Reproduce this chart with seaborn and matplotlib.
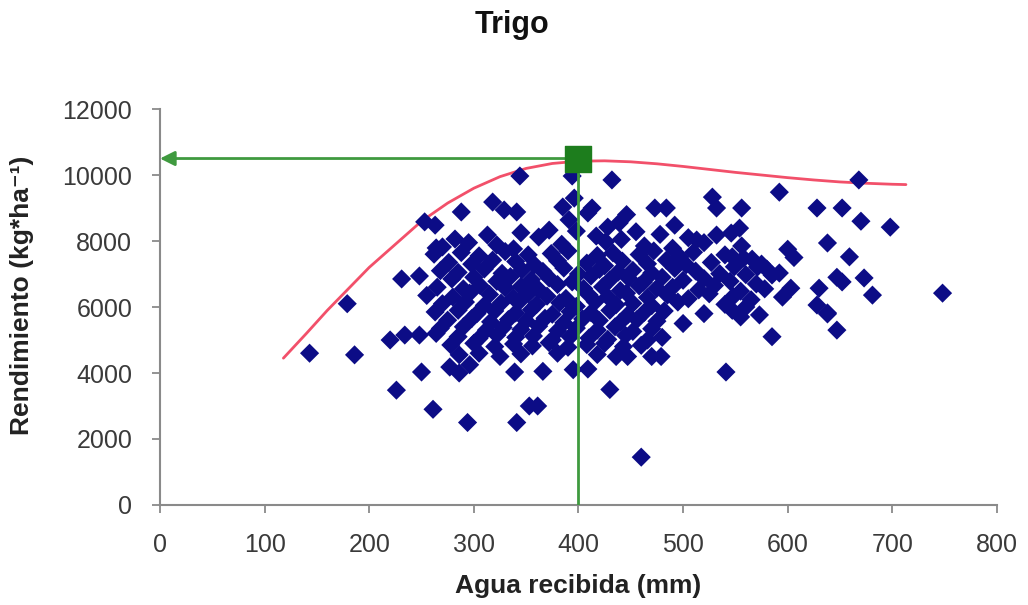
import numpy as np
import pandas as pd
import matplotlib
matplotlib.use("Agg")
import matplotlib.pyplot as plt
import seaborn as sns

# puntos aislados (leidos uno a uno)
sueltos_x = [143, 179, 186, 220, 226, 250, 261, 294, 341, 353, 361, 460, 430, 541, 409, 585,
             638, 647, 668, 592, 628, 652, 670, 698, 638, 659, 606, 592, 647, 652, 673, 681,
             748, 630, 603, 595, 628, 638, 344, 394, 432, 396, 528, 532, 556, 473, 484, 385,
             391, 409, 413, 446, 428, 439, 492, 513, 318, 329, 341, 288, 253, 263, 313, 282,
             264, 231, 248, 554, 547, 558, 571, 585, 547, 573, 532, 546]
sueltos_y = [4600, 6100, 4550, 5000, 3480, 4030, 2900, 2500, 2500, 3000, 3000, 1450, 3500, 4030, 4120, 5100,
             5790, 5300, 9850, 9480, 9000, 9000, 8600, 8420, 7940, 7520, 7500, 7030, 6900, 6760, 6880, 6360,
             6420, 6570, 6570, 6300, 6060, 5820, 9970, 9970, 9850, 9300, 9330, 9000, 9000, 9000, 9000, 9030,
             8640, 8850, 9000, 8800, 8420, 8550, 8480, 8030, 9180, 8940, 8880, 8880, 8580, 8480, 8180, 8060,
             7790, 6850, 6940, 8390, 7520, 7480, 7210, 6970, 5900, 5760, 8180, 8240]

# nube central, por franjas
franja_a_x = [345, 362, 372, 398, 417, 441, 455, 478, 505, 520, 556, 600, 270, 295, 322, 338, 384, 426, 463, 490]
franja_a_y = [8250, 8120, 8330, 8300, 8150, 8050, 8280, 8200, 8100, 7950, 7850, 7750, 7820, 7950, 7880, 7760, 7900, 7980, 7850, 7780]

franja_b_x = [262, 288, 305, 330, 352, 374, 390, 418, 433, 458, 472, 497, 510, 540, 566, 276, 298, 318, 340, 358,
              380, 408, 425, 442, 466, 484, 503, 527, 549, 575, 268, 285, 310, 327, 346, 366, 386, 400, 420, 438,
              452, 470, 492, 512, 535, 560, 580]
franja_b_y = [7600, 7650, 7550, 7680, 7580, 7620, 7700, 7560, 7640, 7590, 7700, 7520, 7660, 7580, 7450, 7350, 7300, 7420, 7380, 7280,
              7400, 7330, 7250, 7390, 7310, 7420, 7280, 7350, 7220, 7300, 7100, 7050, 7150, 7020, 7120, 7080, 7180, 7000, 7140, 7060,
              7110, 7030, 7170, 7090, 7010, 6980, 7150]

franja_c_x = [279, 300, 322, 335, 355, 372, 394, 412, 430, 448, 462, 480, 500, 520, 545, 570, 265, 290, 306, 330,
              345, 362, 380, 405, 423, 440, 458, 475, 490, 515, 530, 555, 578, 255, 280, 296, 315, 338, 352, 370,
              388, 410, 428, 446, 466, 485, 505, 525, 548, 565]
franja_c_y = [6850, 6900, 6780, 6920, 6830, 6880, 6760, 6940, 6820, 6870, 6750, 6900, 6810, 6860, 6780, 6700, 6600, 6550, 6650, 6580,
              6620, 6530, 6680, 6560, 6610, 6500, 6640, 6570, 6600, 6520, 6650, 6480, 6550, 6350, 6300, 6420, 6380, 6280, 6400, 6330,
              6260, 6370, 6310, 6420, 6290, 6360, 6250, 6400, 6320, 6220]

franja_d_x = [270, 292, 310, 326, 344, 360, 382, 398, 416, 436, 452, 470, 495, 540, 560, 263, 285, 303, 320, 340,
              355, 375, 392, 412, 430, 447, 463, 482, 520, 555, 275, 298, 316, 333, 350, 368, 386, 404, 420, 440,
              456, 475, 500]
franja_d_y = [6100, 6150, 6050, 6120, 6180, 6080, 6130, 6020, 6160, 6070, 6110, 6040, 6150, 6080, 6000, 5850, 5900, 5800, 5880, 5820,
              5920, 5780, 5860, 5830, 5900, 5760, 5840, 5880, 5800, 5700, 5600, 5650, 5550, 5620, 5580, 5660, 5520, 5640, 5590, 5540,
              5620, 5570, 5500]

franja_e_x = [268, 290, 312, 328, 345, 362, 380, 398, 418, 435, 452, 470, 234, 248, 264, 285, 305, 322, 340, 357,
              375, 392, 410, 428, 445, 466, 480, 278, 300, 320, 338, 356, 372, 390, 408, 425, 443, 460]
franja_e_y = [5350, 5400, 5300, 5380, 5320, 5420, 5280, 5360, 5300, 5400, 5260, 5340, 5150, 5150, 5200, 5100, 5050, 5150, 5080, 5120,
              5000, 5100, 5060, 5020, 5140, 5000, 5080, 4850, 4900, 4800, 4880, 4820, 4920, 4780, 4860, 4900, 4800, 4840]

franja_f_x = [286, 305, 325, 345, 380, 418, 436, 447, 470, 479, 277, 286, 296, 339, 366, 395]
franja_f_y = [4550, 4600, 4500, 4580, 4600, 4560, 4500, 4500, 4500, 4500, 4180, 4000, 4250, 4030, 4050, 4100]

# curva de ajuste
curva_x = [118, 140, 160, 180, 200, 225, 250, 275, 300, 325, 350, 375, 400, 425, 450,
           475, 500, 525, 550, 575, 600, 625, 650, 675, 700, 713]
curva_y = [4450, 5200, 5900, 6550, 7200, 7900, 8600, 9150, 9600, 9950, 10200, 10350, 10420, 10430, 10400,
           10340, 10260, 10170, 10080, 10000, 9920, 9850, 9790, 9750, 9720, 9710]

optimo_x = 400
optimo_y = 10500

x_ticks = [0, 100, 200, 300, 400, 500, 600, 700, 800]
y_ticks = [0, 2000, 4000, 6000, 8000, 10000, 12000]

df = pd.DataFrame({
    "agua": sueltos_x + franja_a_x + franja_b_x + franja_c_x + franja_d_x + franja_e_x + franja_f_x,
    "rend": sueltos_y + franja_a_y + franja_b_y + franja_c_y + franja_d_y + franja_e_y + franja_f_y,
})

sns.set_theme(style="ticks")
plt.rcParams["font.family"] = ["Liberation Sans", "DejaVu Sans"]

fig = plt.figure(figsize=(10.28, 6.05), dpi=100)
ax = fig.add_axes([0.1556, 0.1653, 0.8142, 0.6545])

sns.lineplot(x=curva_x, y=curva_y, color="#f2506a", lw=2, ax=ax, zorder=2)
sns.scatterplot(data=df, x="agua", y="rend", marker="D", s=95, color="#0c0c86",
                edgecolor="none", ax=ax, zorder=3)

verde = "#3f9a3f"
ax.plot([optimo_x, optimo_x], [0, optimo_y], color=verde, lw=2, zorder=4)
ax.annotate("", xy=(0, optimo_y), xytext=(optimo_x, optimo_y),
            arrowprops=dict(arrowstyle="-|>", color=verde, lw=2, mutation_scale=22,
                            shrinkA=0, shrinkB=0), zorder=4)
ax.scatter([optimo_x], [optimo_y], marker="s", s=330, color="#1d7d1d", zorder=5)

ax.set_xlim(0, 800)
ax.set_ylim(0, 12000)
ax.set_xticks(x_ticks)
ax.set_yticks(y_ticks)
ax.tick_params(axis="both", labelsize=18, colors="#8a8a8a", labelcolor="#3a3a3a",
               length=6, width=1.3, pad=14)

for lado in ["top", "right"]:
    ax.spines[lado].set_visible(False)
for lado in ["left", "bottom"]:
    ax.spines[lado].set_color("#8a8a8a")
    ax.spines[lado].set_linewidth(1.5)

ax.set_xlabel("Agua recibida (mm)", fontsize=19, fontweight="bold", color="#222222")
ax.set_ylabel("Rendimiento (kg*ha⁻¹)", fontsize=19, fontweight="bold", color="#222222")
ax.xaxis.set_label_coords(0.5, -0.175)
ax.yaxis.set_label_coords(-0.150, 0.53)

fig.text(0.498, 0.958, "Trigo", ha="center", va="center", fontsize=22,
         fontweight="bold", color="#111111")

plt.savefig("out.png", dpi=100)
